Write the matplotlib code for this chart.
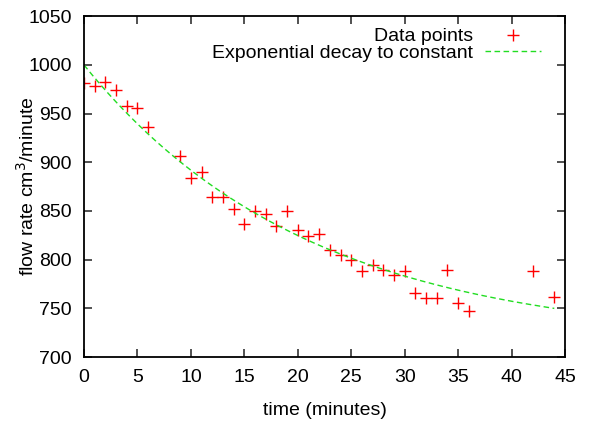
#!/usr/bin/env python3
# -*- coding: utf-8 -*-
import numpy as np
import matplotlib
matplotlib.use('Agg')
import matplotlib.pyplot as plt

plt.rcParams['font.family'] = ['Liberation Sans', 'DejaVu Sans']

# measured flow rate (cm^3/minute) vs time (minutes)
t = np.array([0, 1, 2, 3, 4, 5, 6, 9, 10, 11, 12, 13, 14, 15, 16, 17, 18, 19,
              20, 21, 22, 23, 24, 25, 26, 27, 28, 29, 30, 31, 32, 33, 34, 35,
              36, 42, 44])
flow = np.array([981, 978, 982, 974, 958, 956, 936, 907, 884, 890, 864, 864,
                 852, 837, 850, 847, 835, 850, 830, 824, 826, 810, 805, 800,
                 788, 795, 789, 784, 788, 766, 761, 761, 789, 755, 747, 788,
                 762])

# fitted exponential decay to constant: c + (y0 - c) * exp(-k t)
y0 = 1000.0
c = 715.0
k = 0.0477

x_ticks = np.arange(0, 50, 5)
y_ticks = np.arange(700, 1100, 50)

fig = plt.figure(figsize=(5.89, 4.24), dpi=100)
ax = fig.add_axes([84 / 589, 1 - 357 / 424, 481 / 589, 340.7 / 424])

tt = np.linspace(0, 44, 300)
ax.plot(t, flow, '+', color='#ff0000', markersize=8, mew=1.0, label='Data points')
ax.plot(tt, c + (y0 - c) * np.exp(-k * tt), '--', color='#22dd22', lw=1.0,
        dashes=(4, 2.5), label='Exponential decay to constant')

ax.set_xlim(0, 45)
ax.set_ylim(700, 1050)
ax.set_xticks(x_ticks)
ax.set_yticks(y_ticks)
ax.tick_params(direction='in', length=6, width=1.2, labelsize=14, pad=9,
               top=True, right=True, color='#333333')
ax.tick_params(axis='y', pad=9)
for s in ax.spines.values():
    s.set_linewidth(1.3)

ax.set_xlabel('time (minutes)', fontsize=14)
ax.xaxis.set_label_coords(0.5, -0.132)
ax.set_ylabel('flow rate cm$^3$/minute', fontsize=14, va='center')
ax.yaxis.set_label_coords(-0.118, 0.5)

ax.legend(loc='upper right', bbox_to_anchor=(0.950, 0.966), frameon=False,
          markerfirst=False, fontsize=14, borderpad=0, borderaxespad=0,
          handlelength=2.9, handletextpad=0.6, labelspacing=-0.05)

fig.savefig('out.png', dpi=100)
